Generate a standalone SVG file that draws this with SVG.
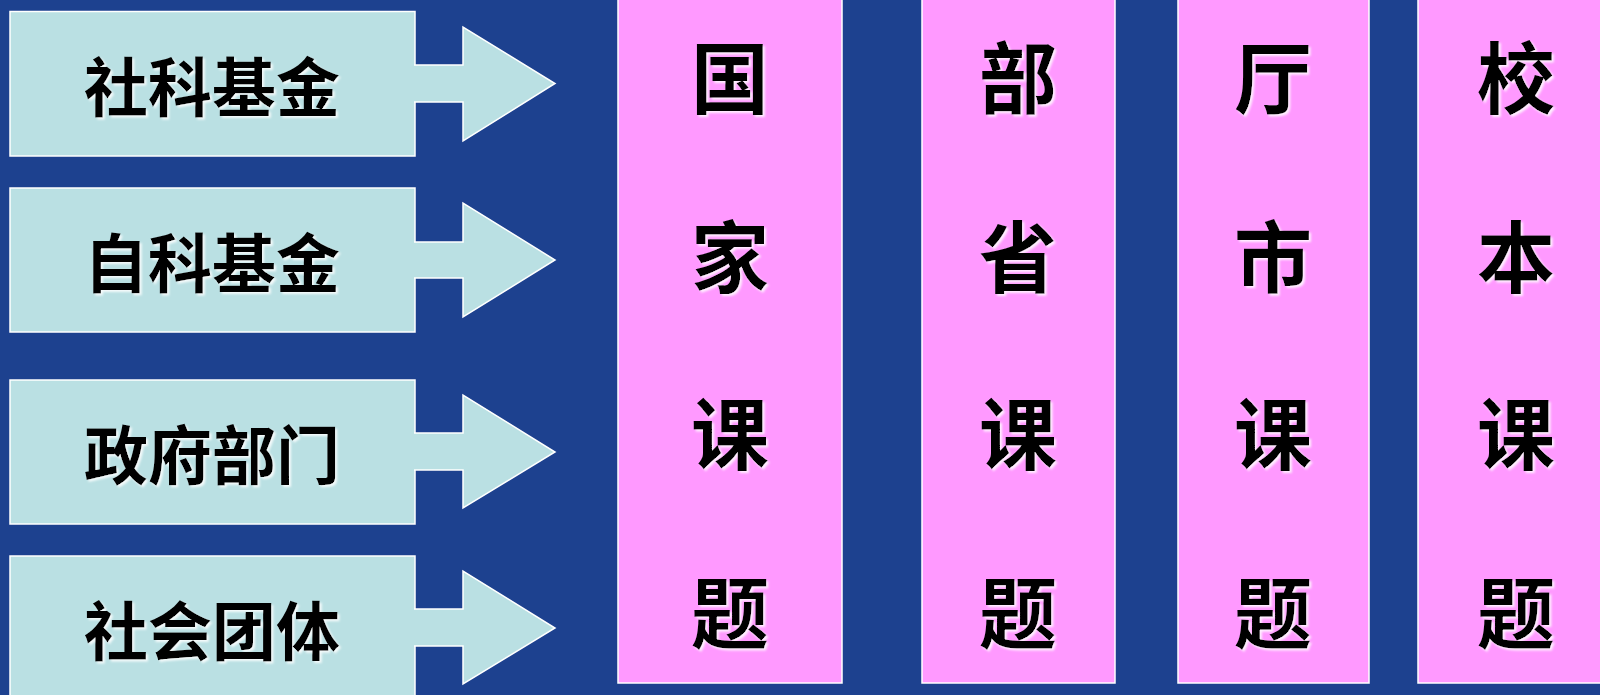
<svg xmlns="http://www.w3.org/2000/svg" width="1600" height="695" viewBox="0 0 1600 695">
<defs>
<filter id="glow" x="-10%" y="-10%" width="130%" height="130%">
<feDropShadow dx="2" dy="2" stdDeviation="1" flood-color="#ffffff" flood-opacity="0.85"/>
</filter>
</defs>
<style>
.box{fill:#BAE0E3;stroke:#ffffff;stroke-width:1.5}
.col{fill:#FF99FF;stroke:#ffffff;stroke-width:1.5}
.arrow{fill:#BAE0E3;stroke:#ffffff;stroke-width:1.5;stroke-linejoin:miter}
.lbl{font-family:"Noto Sans CJK SC","Noto Sans CJK TC",sans-serif;font-weight:bold;fill:#000000;text-anchor:middle;filter:url(#glow)}
.l1{font-size:64px}
.l2{font-size:78px}
</style>
<rect x="0" y="0" width="1600" height="695" fill="#1D418F"/>
<g id="node-sheke">
<rect class="box" x="10" y="11.5" width="405" height="144.5"/>
<text class="lbl l1" x="212" y="111">社科基金</text>
</g>
<g id="node-zike">
<rect class="box" x="10" y="188" width="405" height="144"/>
<text class="lbl l1" x="212" y="287">自科基金</text>
</g>
<g id="node-zhengfu">
<rect class="box" x="10" y="380" width="405" height="144"/>
<text class="lbl l1" x="212" y="479">政府部门</text>
</g>
<g id="node-shetuan">
<rect class="box" x="10" y="556" width="405" height="144"/>
<text class="lbl l1" x="212" y="655">社会团体</text>
</g>
<g id="connectors">
<path class="arrow" d="M414,65 H463 V27 L555,83.5 L463,141 V102 H414"/>
<path class="arrow" d="M414,242 H463 V203 L555,260 L463,317 V278 H414"/>
<path class="arrow" d="M414,433 H463 V395 L555,452 L463,508 V470 H414"/>
<path class="arrow" d="M414,609 H463 V571 L555,628 L463,684 V646 H414"/>
</g>
<g id="node-guojia">
<rect class="col" x="618" y="-5" width="224" height="688"/>
<text class="lbl l2" x="730" y="108">国</text>
<text class="lbl l2" x="730" y="287">家</text>
<text class="lbl l2" x="730" y="464">课</text>
<text class="lbl l2" x="730" y="643">题</text>
</g>
<g id="node-busheng">
<rect class="col" x="922" y="-5" width="193" height="688"/>
<text class="lbl l2" x="1018" y="108">部</text>
<text class="lbl l2" x="1018" y="287">省</text>
<text class="lbl l2" x="1018" y="464">课</text>
<text class="lbl l2" x="1018" y="643">题</text>
</g>
<g id="node-tingshi">
<rect class="col" x="1178" y="-5" width="191" height="688"/>
<text class="lbl l2" x="1273" y="108">厅</text>
<text class="lbl l2" x="1273" y="287">市</text>
<text class="lbl l2" x="1273" y="464">课</text>
<text class="lbl l2" x="1273" y="643">题</text>
</g>
<g id="node-xiaoben">
<rect class="col" x="1418" y="-5" width="200" height="688"/>
<text class="lbl l2" x="1516" y="108">校</text>
<text class="lbl l2" x="1516" y="287">本</text>
<text class="lbl l2" x="1516" y="464">课</text>
<text class="lbl l2" x="1516" y="643">题</text>
</g>
</svg>
